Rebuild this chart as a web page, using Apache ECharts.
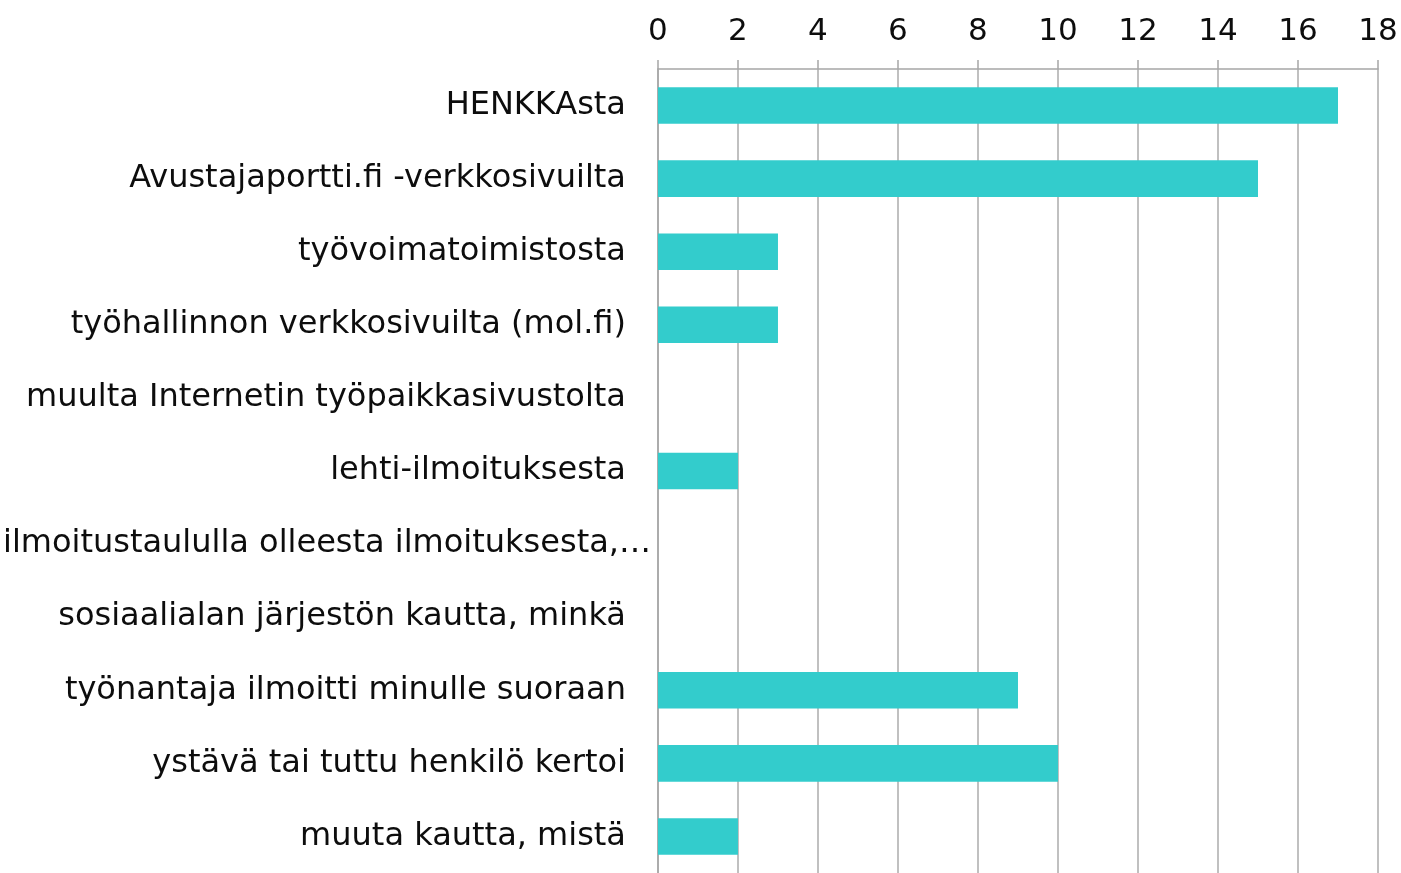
<!DOCTYPE html>
<html>
<head>
<meta charset="utf-8">
<script src="https://cdn.jsdelivr.net/npm/echarts@6/dist/echarts.min.js"></script>
<style>
  html, body { margin: 0; padding: 0; background: #fff; }
  #chart { width: 1401px; height: 873px; }
</style>
</head>
<body>
<div id="chart"></div>
<script>
var categories = [
  'HENKKAsta',
  'Avustajaportti.fi -verkkosivuilta',
  'työvoimatoimistosta',
  'työhallinnon verkkosivuilta (mol.fi)',
  'muulta Internetin työpaikkasivustolta',
  'lehti-ilmoituksesta',
  'ilmoitustaululla olleesta ilmoituksesta,…',
  'sosiaalialan järjestön kautta, minkä',
  'työnantaja ilmoitti minulle suoraan',
  'ystävä tai tuttu henkilö kertoi',
  'muuta kautta, mistä'
];
var values = [17, 15, 3, 3, 0, 2, 0, 0, 9, 10, 2];
var axisMax = 18;
var axisStep = 2;

var chart = echarts.init(document.getElementById('chart'));

var option = {
  animation: false,
  grid: {
    left: 657,
    right: 23,
    top: 69,
    bottom: 0
  },
  xAxis: {
    type: 'value',
    position: 'top',
    min: 0,
    max: axisMax,
    interval: axisStep,
    axisLine: { show: true, lineStyle: { color: '#a6a6a6', width: 1.5 } },
    axisTick: { show: true, length: 9, lineStyle: { color: '#a6a6a6', width: 1.5 } },
    splitLine: { show: true, lineStyle: { color: '#c0c0c0', width: 2 } },
    axisLabel: {
      margin: 22,
      fontFamily: 'DejaVu Sans',
      fontSize: 31,
      color: '#0d0d0d'
    }
  },
  yAxis: {
    type: 'category',
    inverse: true,
    data: categories.map(function (c, i) {
      // the truncated label sits closer to the axis in the original
      return i === 6
        ? { value: c, textStyle: { padding: [0, 0, 0, 0] } }
        : c;
    }),
    axisLine: { show: true, lineStyle: { color: '#a6a6a6', width: 1.5 } },
    axisTick: { show: false },
    axisLabel: {
      margin: 7,
      padding: [0, 25, 0, 0],
      fontFamily: 'DejaVu Sans',
      fontSize: 32,
      color: '#0d0d0d'
    }
  },
  series: [
    {
      type: 'bar',
      data: values,
      barWidth: '50%',
      itemStyle: { color: '#33cccc' }
    }
  ]
};
chart.setOption(option);
</script>
</body>
</html>
